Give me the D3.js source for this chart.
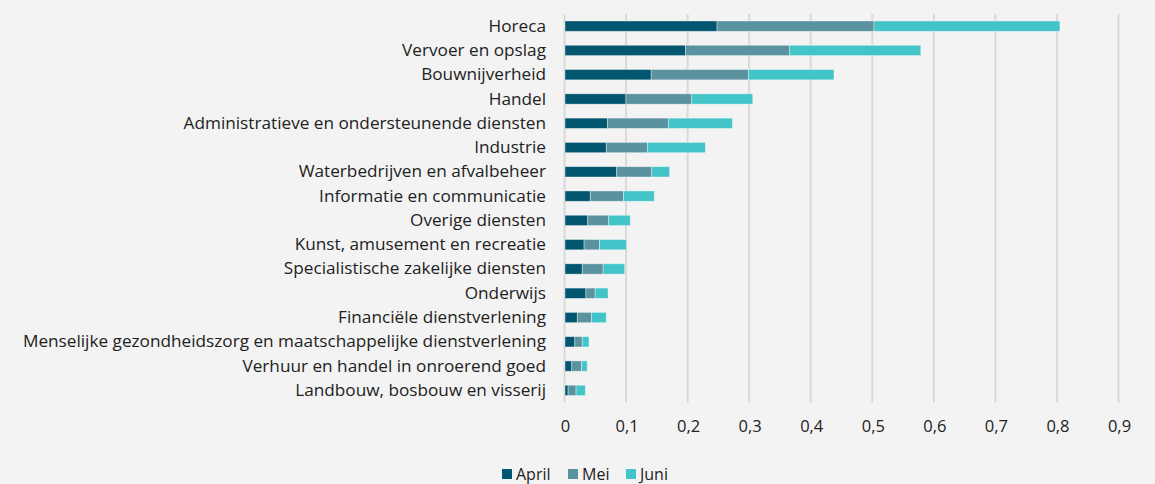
<!DOCTYPE html>
<html>
<head>
<meta charset="utf-8">
<script src="https://cdn.jsdelivr.net/npm/d3@7"></script>
<style>
  html, body { margin: 0; padding: 0; background: #f3f3f3; }
  svg { display: block; font-family: "Open Sans", sans-serif; }
</style>
</head>
<body>
<svg width="1155" height="484"></svg>
<script>
// sectors, top to bottom
var categories = [
    "Horeca",
    "Vervoer en opslag",
    "Bouwnijverheid",
    "Handel",
    "Administratieve en ondersteunende diensten",
    "Industrie",
    "Waterbedrijven en afvalbeheer",
    "Informatie en communicatie",
    "Overige diensten",
    "Kunst, amusement en recreatie",
    "Specialistische zakelijke diensten",
    "Onderwijs",
    "Financiële dienstverlening",
    "Menselijke gezondheidszorg en maatschappelijke dienstverlening",
    "Verhuur en handel in onroerend goed",
    "Landbouw, bosbouw en visserij"
];
var seriesNames = ["April", "Mei", "Juni"];
var april = [0.247, 0.196, 0.140, 0.099, 0.069, 0.067, 0.084, 0.041, 0.037, 0.031, 0.028, 0.034, 0.020, 0.016, 0.011, 0.005];
var mei   = [0.255, 0.169, 0.158, 0.107, 0.099, 0.067, 0.057, 0.054, 0.034, 0.025, 0.034, 0.015, 0.023, 0.012, 0.016, 0.013];
var juni  = [0.302, 0.213, 0.139, 0.099, 0.104, 0.094, 0.029, 0.050, 0.035, 0.044, 0.035, 0.021, 0.024, 0.011, 0.009, 0.015];
var xTicks = [0, 0.1, 0.2, 0.3, 0.4, 0.5, 0.6, 0.7, 0.8, 0.9];
var colors = ["#02566f", "#5a939f", "#43c4c9"];

var data = categories.map(function(c, i) {
    return {cat: c, April: april[i], Mei: mei[i], Juni: juni[i]};
});

var svg = d3.select("svg"),
    margin = {top: 14, left: 565, right: 36},
    width = 1119 - margin.left,
    height = 402.5 - margin.top;

var x = d3.scaleLinear().domain([0, 0.9]).range([0, width]),
    y = d3.scaleBand().domain(categories).range([0, height]).paddingInner(0.575).paddingOuter(0.2875),
    z = d3.scaleOrdinal().domain(seriesNames).range(colors);

var nl = d3.formatLocale({decimal: ",", thousands: ".", grouping: [3], currency: ["€", ""]});
var fmt = nl.format(".1~f");

var g = svg.append("g")
    .attr("transform", "translate(" + margin.left + "," + margin.top + ")");

// gridlines
g.selectAll(".grid")
    .data(xTicks)
    .enter().append("line")
    .attr("class", "grid")
    .attr("x1", function(d) { return x(d) - 0.5; })
    .attr("x2", function(d) { return x(d) - 0.5; })
    .attr("y1", 0)
    .attr("y2", height)
    .attr("stroke", "#d9d9d9")
    .attr("stroke-width", 2);

// stacked bars
var stack = d3.stack().keys(seriesNames);
var layer = g.selectAll(".layer")
    .data(stack(data))
    .enter().append("g")
    .attr("class", "layer")
    .attr("fill", function(d) { return z(d.key); });

layer.selectAll("rect")
    .data(function(d) { return d; })
    .enter().append("rect")
    .attr("x", function(d) { return x(d[0]); })
    .attr("y", function(d) { return y(d.data.cat); })
    .attr("width", function(d) { return x(d[1]) - x(d[0]); })
    .attr("height", y.bandwidth())
    .attr("stroke", "#ffffff")
    .attr("stroke-opacity", 0.5)
    .attr("stroke-width", 0.75);

// category labels
var yAxis = g.append("g")
    .call(d3.axisLeft(y).tickSize(0).tickPadding(19));
yAxis.select(".domain").remove();
yAxis.selectAll("text")
    .style("font-family", "'Open Sans', sans-serif")
    .style("font-size", "17.2px")
    .attr("fill", "#222");

// x axis labels
var xAxis = g.append("g")
    .attr("transform", "translate(0," + height + ")")
    .call(d3.axisBottom(x).tickValues(xTicks).tickFormat(fmt).tickSize(0).tickPadding(18));
xAxis.select(".domain").remove();
xAxis.selectAll("text")
    .style("font-family", "'Open Sans', sans-serif")
    .style("font-size", "16.5px")
    .attr("fill", "#222");

// legend
var legendX = [502, 568, 626];
var legend = svg.append("g").selectAll(".legend")
    .data(seriesNames)
    .enter().append("g")
    .attr("transform", function(d, i) { return "translate(" + legendX[i] + ",469)"; });
legend.append("rect")
    .attr("width", 10)
    .attr("height", 10)
    .attr("fill", function(d) { return z(d); });
legend.append("text")
    .attr("x", 14)
    .attr("y", 10)
    .attr("dy", "0.05em")
    .style("font-size", "16px")
    .attr("fill", "#222")
    .text(function(d) { return d; });
</script>
</body>
</html>
